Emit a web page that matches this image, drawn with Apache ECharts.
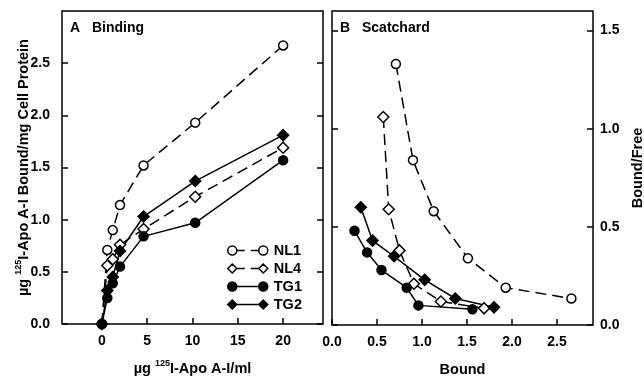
<!DOCTYPE html>
<html>
<head>
<meta charset="utf-8">
<script src="https://cdn.jsdelivr.net/npm/echarts@6/dist/echarts.min.js"></script>
<style>
  html, body { margin: 0; padding: 0; background: #fff; }
  #chart { width: 644px; height: 377px; }
</style>
</head>
<body>
<div id="chart"></div>
<script>
// panel A: binding vs. added concentration (ug/ml)
const concentration = [0, 0.6, 1.2, 2.0, 4.6, 10.3, 20]
const boundNL1 = [0, 0.71, 0.90, 1.14, 1.52, 1.93, 2.67]
const boundNL4 = [0, 0.56, 0.62, 0.76, 0.91, 1.22, 1.69]
const boundTG1 = [0, 0.25, 0.39, 0.55, 0.84, 0.97, 1.57]
const boundTG2 = [0, 0.32, 0.45, 0.70, 1.03, 1.37, 1.81]

// panel B: Scatchard (bound vs bound/free)
const scatBoundNL1 = [0.71, 0.90, 1.13, 1.51, 1.93, 2.66]
const scatRatioNL1 = [1.33, 0.84, 0.58, 0.34, 0.19, 0.135]
const scatBoundNL4 = [0.57, 0.63, 0.75, 0.91, 1.21, 1.69]
const scatRatioNL4 = [1.06, 0.59, 0.38, 0.21, 0.12, 0.085]
const scatBoundTG1 = [0.25, 0.39, 0.55, 0.83, 0.96, 1.56]
const scatRatioTG1 = [0.48, 0.37, 0.28, 0.19, 0.10, 0.08]
const scatBoundTG2 = [0.32, 0.45, 0.69, 1.03, 1.37, 1.80]
const scatRatioTG2 = [0.60, 0.43, 0.35, 0.23, 0.135, 0.09]

const xTicksA = [0, 5, 10, 15, 20]
const yTicksA = [0, 0.5, 1.0, 1.5, 2.0, 2.5]
const xTicksB = [0, 0.5, 1.0, 1.5, 2.0, 2.5]
const yTicksB = [0, 0.5, 1.0, 1.5]

const FONT = '"Liberation Sans", Arial, sans-serif'
const DASH = [11, 6]

const labelStyle = { color: '#000', fontFamily: FONT, fontWeight: 'bold', fontSize: 14 }
const fmt1 = (v) => v.toFixed(1)

function pair(xs, ys) {
    return xs.map((x, i) => [x, ys[i]])
}

const STYLES = {
    NL1: { symbol: 'circle', size: 9, fill: '#fff', dash: DASH },
    NL4: { symbol: 'diamond', size: 11, fill: '#fff', dash: DASH },
    TG1: { symbol: 'circle', size: 9, fill: '#000', dash: 'solid' },
    TG2: { symbol: 'diamond', size: 11, fill: '#000', dash: 'solid' },
}

function makeSeries(name, data, xIdx, yIdx) {
    const s = STYLES[name]
    return {
        name,
        type: 'line',
        xAxisIndex: xIdx,
        yAxisIndex: yIdx,
        data,
        symbol: s.symbol,
        symbolSize: s.size,
        showAllSymbol: true,
        lineStyle: { color: '#000', width: 1.5, type: s.dash },
        itemStyle: { color: s.fill, borderColor: '#000', borderWidth: 1.5 },
        animation: false,
    }
}

// legend icons: symbol - line - symbol, 40 x 9 box
const circ = (cx) => `M${cx - 4.5} 4.5 A4.5 4.5 0 1 0 ${cx + 4.5} 4.5 A4.5 4.5 0 1 0 ${cx - 4.5} 4.5 Z`
const diam = (cx) => `M${cx} 0 L${cx + 4.5} 4.5 L${cx} 9 L${cx - 4.5} 4.5 Z`
const ICONS = {
    NL1: 'path://' + circ(4.5) + ' ' + circ(35.5) + ' M9 4.5 L17 4.5 M23 4.5 L31 4.5',
    NL4: 'path://' + diam(4.5) + ' ' + diam(35.5) + ' M9 4.5 L17 4.5 M23 4.5 L31 4.5',
    TG1: 'path://' + circ(4.5) + ' ' + circ(35.5) + ' M9 4.5 L31 4.5',
    TG2: 'path://' + diam(4.5) + ' ' + diam(35.5) + ' M9 4.5 L31 4.5',
}

const nameRich = {
    n: { fontFamily: FONT, fontWeight: 'bold', fontSize: 14.5, color: '#000', lineHeight: 17, verticalAlign: 'bottom' },
    s: { fontFamily: FONT, fontWeight: 'bold', fontSize: 9, color: '#000', lineHeight: 17, verticalAlign: 'top' },
}

const chart = echarts.init(document.getElementById('chart'), null, { renderer: 'canvas' })

const tick = { show: true, inside: true, length: 6, lineStyle: { color: '#000', width: 1.5 } }
const noLine = { show: false, onZero: false }
const gridBase = { show: true, borderColor: '#000', borderWidth: 1.5, backgroundColor: 'transparent', containLabel: false, outerBoundsMode: 'none' }

const option = {
    backgroundColor: '#fff',
    animation: false,
    title: [
        {
            text: '{a|A}{b|Binding}',
            left: 70, top: 21, padding: 0,
            textStyle: { rich: { a: { ...labelStyle, width: 22 }, b: labelStyle } },
        },
        {
            text: '{a|B}{b|Scatchard}',
            left: 340, top: 21, padding: 0,
            textStyle: { rich: { a: { ...labelStyle, width: 22 }, b: labelStyle } },
        },
    ],
    legend: {
        orient: 'vertical',
        left: 227,
        top: 243,
        padding: 0,
        itemWidth: 40,
        itemHeight: 9,
        itemGap: 3,
        selectedMode: false,
        textStyle: { ...labelStyle, fontSize: 14.5, padding: [0, 0, 0, 1] },
        data: ['NL1', 'NL4', 'TG1', 'TG2'].map((n) => ({
            name: n,
            icon: ICONS[n],
            itemStyle: { color: STYLES[n].fill, borderColor: '#000', borderWidth: 1.5 },
        })),
    },
    grid: [
        { ...gridBase, left: 62, top: 11, width: 261, height: 313 },
        { ...gridBase, left: 332, top: 11, width: 261, height: 314 },
    ],
    xAxis: [
        {
            type: 'value', gridIndex: 0, min: -4.4, max: 24.4,
            axisLine: noLine,
            axisTick: { ...tick, customValues: xTicksA },
            axisLabel: { ...labelStyle, margin: 10, customValues: xTicksA },
            splitLine: { show: false },
            name: '{n|µg }{s|125}{n|I-Apo A-I/ml}',
            nameLocation: 'middle',
            nameGap: 35,
            nameMoveOverlap: false,
            nameTextStyle: { rich: nameRich },
        },
        {
            type: 'value', gridIndex: 1, min: 0, max: 2.9,
            axisLine: noLine,
            axisTick: { ...tick, customValues: xTicksB },
            axisLabel: { ...labelStyle, margin: 10, formatter: fmt1, customValues: xTicksB },
            splitLine: { show: false },
            name: 'Bound',
            nameLocation: 'middle',
            nameGap: 37,
            nameMoveOverlap: false,
            nameTextStyle: { ...labelStyle, fontSize: 14.5 },
        },
    ],
    yAxis: [
        {
            type: 'value', gridIndex: 0, min: 0, max: 3, position: 'left',
            axisLine: noLine,
            axisTick: { ...tick, customValues: yTicksA },
            axisLabel: { ...labelStyle, margin: 12, formatter: fmt1, customValues: yTicksA },
            splitLine: { show: false },
            name: '{n|µg }{s|125}{n|I-Apo A-I Bound/mg Cell Protein}',
            nameLocation: 'middle',
            nameGap: 31,
            nameMoveOverlap: false,
            nameTextStyle: { rich: nameRich },
        },
        {
            type: 'value', gridIndex: 0, min: 0, max: 3, position: 'right',
            axisLine: noLine,
            axisTick: { ...tick, customValues: yTicksA },
            axisLabel: { show: false },
            splitLine: { show: false },
        },
        {
            type: 'value', gridIndex: 1, min: 0, max: 1.6, position: 'left',
            axisLine: noLine,
            axisTick: { ...tick, customValues: yTicksB },
            axisLabel: { show: false },
            splitLine: { show: false },
        },
        {
            type: 'value', gridIndex: 1, min: 0, max: 1.6, position: 'right',
            axisLine: noLine,
            axisTick: { ...tick, customValues: yTicksB },
            axisLabel: { ...labelStyle, margin: 7, formatter: fmt1, customValues: yTicksB },
            splitLine: { show: false },
            name: 'Bound/Free',
            nameLocation: 'middle',
            nameRotate: 90,
            nameGap: 37,
            nameMoveOverlap: false,
            nameTextStyle: { ...labelStyle, fontSize: 14.5 },
        },
    ],
    series: [
        makeSeries('NL1', pair(concentration, boundNL1), 0, 0),
        makeSeries('NL4', pair(concentration, boundNL4), 0, 0),
        makeSeries('TG1', pair(concentration, boundTG1), 0, 0),
        makeSeries('TG2', pair(concentration, boundTG2), 0, 0),
        makeSeries('NL1', pair(scatBoundNL1, scatRatioNL1), 1, 3),
        makeSeries('NL4', pair(scatBoundNL4, scatRatioNL4), 1, 3),
        makeSeries('TG1', pair(scatBoundTG1, scatRatioTG1), 1, 3),
        makeSeries('TG2', pair(scatBoundTG2, scatRatioTG2), 1, 3),
    ],
}

chart.setOption(option)
</script>
</body>
</html>
